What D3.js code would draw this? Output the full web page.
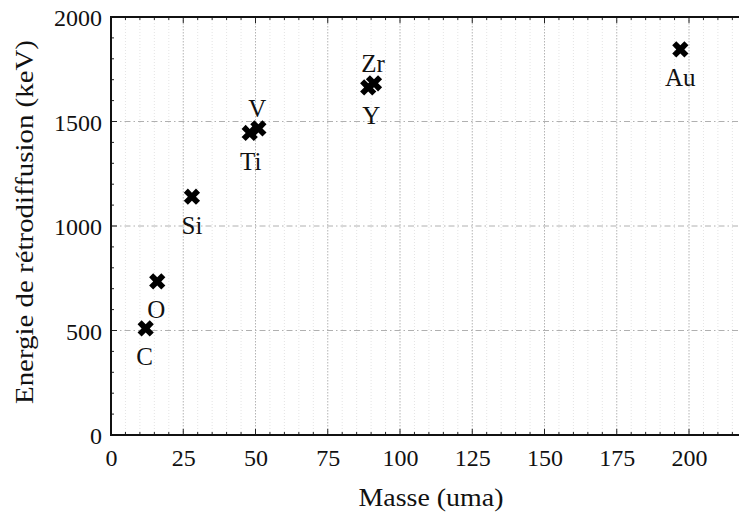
<!DOCTYPE html>
<html>
<head>
<meta charset="utf-8">
<script src="https://cdn.jsdelivr.net/npm/d3@7"></script>
<style>
  html, body { margin: 0; padding: 0; background: #fff; }
  svg { display: block; }
  text { font-family: "Liberation Serif", "Times New Roman", serif; fill: #111; }
</style>
</head>
<body>
<svg id="chart" width="739" height="516"></svg>
<script>
// ---- data ----
const elements = ["C", "O", "Si", "Ti", "V", "Y", "Zr", "Au"];
const masses   = [12, 16, 28, 48, 51, 89, 91, 197];
const energies = [510, 735, 1140, 1445, 1467, 1663, 1683, 1845];
const labelPos = ["below", "below", "below", "below", "above", "below", "above", "below"];
const labelDx  = [-1, -1, 0, 1, -1, 3, -1, 0];
const xTicks = [0, 25, 50, 75, 100, 125, 150, 175, 200];
const yTicks = [0, 500, 1000, 1500, 2000];
const xTitle = "Masse (uma)";
const yTitle = "Energie de rétrodiffusion (keV)";

// ---- layout ----
const W = 739, H = 516;
const mLeft = 111, mTop = 17, mBottom = 435;
const xMax = 220;
const pxPerUnit = 2.89;

const svg = d3.select("#chart");
const x = d3.scaleLinear().domain([0, xMax]).range([mLeft, mLeft + xMax * pxPerUnit]);
const y = d3.scaleLinear().domain([0, 2000]).range([mBottom, mTop]);

const mRight = W + 2;

// minor vertical grid (every 5)
const xMinor = d3.range(5, xMax + 1, 5).filter(v => v % 25 !== 0);
svg.append("g").selectAll("line").data(xMinor).join("line")
  .attr("x1", d => x(d)).attr("x2", d => x(d))
  .attr("y1", mTop).attr("y2", mBottom)
  .attr("stroke", "#e4e4e4").attr("stroke-width", 1)
  .attr("stroke-dasharray", "1,2");

// major vertical grid (every 25)
svg.append("g").selectAll("line").data(xTicks.filter(v => v > 0)).join("line")
  .attr("x1", d => x(d)).attr("x2", d => x(d))
  .attr("y1", mTop).attr("y2", mBottom)
  .attr("stroke", "#b4b4b4").attr("stroke-width", 1)
  .attr("stroke-dasharray", "1.5,1.5");

// horizontal grid (dash-dot)
svg.append("g").selectAll("line").data([500, 1000, 1500]).join("line")
  .attr("x1", mLeft).attr("x2", mRight)
  .attr("y1", d => y(d)).attr("y2", d => y(d))
  .attr("stroke", "#b0b0b0").attr("stroke-width", 1)
  .attr("stroke-dasharray", "6,3,1.5,3");

// axes using d3 axes
const xAxisB = d3.axisBottom(x).tickValues(xTicks).tickSize(0).tickPadding(14).tickFormat(d3.format("d"));
const gxb = svg.append("g").attr("transform", `translate(0,${mBottom})`).call(xAxisB);
gxb.select(".domain").remove();
gxb.selectAll("text").attr("font-size", 24).attr("font-family", "Liberation Serif").attr("fill", "#111").attr("dy", "0.71em").attr("y", 14);

const yAxisL = d3.axisLeft(y).tickValues(yTicks).tickSize(0).tickPadding(9).tickFormat(d3.format("d"));
const gyl = svg.append("g").attr("transform", `translate(${mLeft},0)`).call(yAxisL);
gyl.select(".domain").remove();
gyl.selectAll("text").attr("font-size", 24).attr("font-family", "Liberation Serif").attr("fill", "#111").attr("dy", "0.36em");

// inward ticks
const xMinorAll = d3.range(0, xMax + 1, 5);
const tickG = svg.append("g").attr("stroke", "#222").attr("stroke-width", 1);
xMinorAll.forEach(v => {
  const len = v % 25 === 0 ? 6 : 3;
  tickG.append("line").attr("x1", x(v)).attr("x2", x(v)).attr("y1", mBottom).attr("y2", mBottom - len);
  tickG.append("line").attr("x1", x(v)).attr("x2", x(v)).attr("y1", mTop).attr("y2", mTop + len);
});
d3.range(0, 2001, 100).forEach(v => {
  const len = v % 500 === 0 ? 6 : 3;
  tickG.append("line").attr("x1", mLeft).attr("x2", mLeft + len).attr("y1", y(v)).attr("y2", y(v));
});

// frame
svg.append("line").attr("x1", mLeft - 1).attr("x2", mRight).attr("y1", mTop).attr("y2", mTop)
  .attr("stroke", "#111").attr("stroke-width", 2);
svg.append("line").attr("x1", mLeft - 1).attr("x2", mRight).attr("y1", mBottom).attr("y2", mBottom)
  .attr("stroke", "#111").attr("stroke-width", 2);
svg.append("line").attr("x1", mLeft).attr("x2", mLeft).attr("y1", mTop - 1).attr("y2", mBottom + 1)
  .attr("stroke", "#111").attr("stroke-width", 2);

// markers
const pts = elements.map((e, i) => ({ e, m: masses[i], en: energies[i], pos: labelPos[i], dx: labelDx[i] }));
const sym = d3.symbol().type(d3.symbolCross).size(165);
svg.append("g").selectAll("path").data(pts).join("path")
  .attr("d", sym)
  .attr("transform", d => `translate(${x(d.m)},${y(d.en)}) rotate(45)`)
  .attr("fill", "#000");

// labels
svg.append("g").selectAll("text").data(pts).join("text")
  .attr("x", d => x(d.m) + d.dx)
  .attr("y", d => y(d.en) + (d.pos === "below" ? 37 : -11))
  .attr("text-anchor", "middle")
  .attr("font-size", 25)
  .text(d => d.e);

// axis titles
svg.append("text").attr("x", 431).attr("y", 506).attr("text-anchor", "middle")
  .attr("font-size", 25.5)
  .attr("textLength", 145).attr("lengthAdjust", "spacingAndGlyphs")
  .text(xTitle);
svg.append("text").attr("transform", "translate(33,222) rotate(-90)").attr("text-anchor", "middle")
  .attr("font-size", 25.5)
  .attr("textLength", 364).attr("lengthAdjust", "spacingAndGlyphs")
  .text(yTitle);
</script>
</body>
</html>
